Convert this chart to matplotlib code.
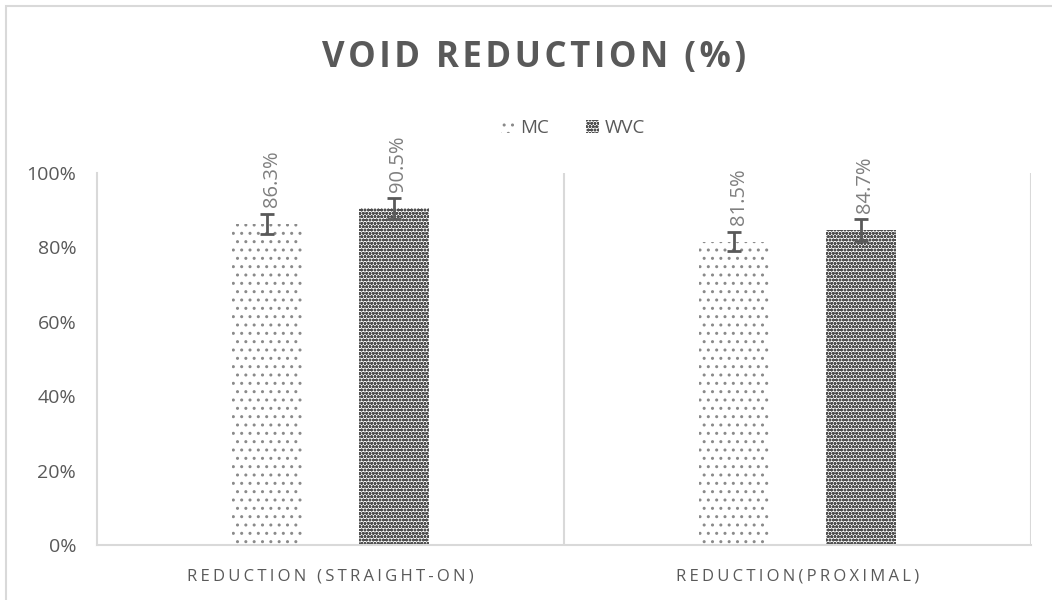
import matplotlib
matplotlib.use("Agg")
import matplotlib.pyplot as plt
from matplotlib.patches import Rectangle, Patch
import numpy as np

categories = ["REDUCTION (STRAIGHT-ON)", "REDUCTION(PROXIMAL)"]
series_names = ["MC", "WVC"]
mc_values = [86.3, 81.5]
wvc_values = [90.5, 84.7]
mc_err = [2.6, 2.6]
wvc_err = [2.8, 3.0]
yticks = [0, 20, 40, 60, 80, 100]
title = "VOID REDUCTION (%)"

HS = "\u200a"
def spaced(s, sep=HS):
    return sep.join(list(s))

plt.rcParams['font.family'] = ['Open Sans', 'DejaVu Sans']
plt.rcParams['hatch.linewidth'] = 1.0

fig = plt.figure(figsize=(10.52, 6.0), dpi=100)
ax = fig.add_axes([97/1052, 1-545/600, (1031-97)/1052, (545-173)/600])

# figure border
fig.patches.append(Rectangle((6/1052, -0.2), 1.3, 1-6/600+0.2, transform=fig.transFigure,
                             fill=False, edgecolor="#d9d9d9", linewidth=1.5, zorder=0))

x = np.arange(len(categories))
off = 0.135
w = 0.15
gray_txt = "#595959"
mc_col = "#8a8a8a"
wvc_col = "#505050"
ax.bar(x - off, mc_values, width=w, facecolor="white", edgecolor=mc_col,
       hatch="..", linewidth=0, zorder=2)
ax.bar(x + off, wvc_values, width=w, facecolor="white", edgecolor=wvc_col,
       hatch="ooooo", linewidth=0, zorder=2)
ax.errorbar(x - off, mc_values, yerr=mc_err, fmt="none", ecolor=gray_txt, elinewidth=2,
            capsize=5, capthick=2, zorder=3)
ax.errorbar(x + off, wvc_values, yerr=wvc_err, fmt="none", ecolor=gray_txt, elinewidth=2,
            capsize=5, capthick=2, zorder=3)

for xs, vals in ((x - off, mc_values), (x + off, wvc_values)):
    for xi, v in zip(xs, vals):
        ax.annotate(f"{v:.1f}%", (xi, v), xytext=(3.5, 12), textcoords="offset points",
                    rotation=90, ha="center", va="bottom", fontsize=14.5, color="#7f7f7f")

ax.set_xlim(-0.5, 1.5)
ax.set_ylim(0, 100)
ax.set_yticks(yticks)
ax.set_yticklabels([f"{t}%" for t in yticks], fontsize=14, color=gray_txt)
ax.set_xticks(x)
ax.set_xticklabels([spaced(c, HS + HS) for c in categories], fontsize=12, color=gray_txt)
ax.tick_params(axis="both", length=0)
ax.tick_params(axis="y", pad=15)
ax.tick_params(axis="x", pad=17)
for s in ["top", "right"]:
    ax.spines[s].set_visible(False)
ax.spines["left"].set_color("#d9d9d9")
ax.spines["bottom"].set_color("#d9d9d9")
ax.spines["left"].set_linewidth(1.5)
ax.spines["bottom"].set_linewidth(1.5)
for xv in [0.5, 1.5]:
    ax.axvline(xv, color="#d9d9d9", linewidth=1.5, zorder=1)

fig.text(534/1052, 1-58/600, spaced(title, HS), ha="center", va="center", fontsize=25,
         fontweight="bold", color=gray_txt)

handles = [Patch(facecolor="white", edgecolor=mc_col, hatch="..", linewidth=0),
           Patch(facecolor="white", edgecolor=wvc_col, hatch="ooooo", linewidth=0)]
fig.legend(handles, series_names, loc="center", bbox_to_anchor=(573/1052, 1-128/600),
           ncol=2, frameon=False, fontsize=13.5, handlelength=0.7, handleheight=0.7,
           handletextpad=0.3, columnspacing=2.0, labelcolor=gray_txt)

fig.savefig("out.png", dpi=100)
